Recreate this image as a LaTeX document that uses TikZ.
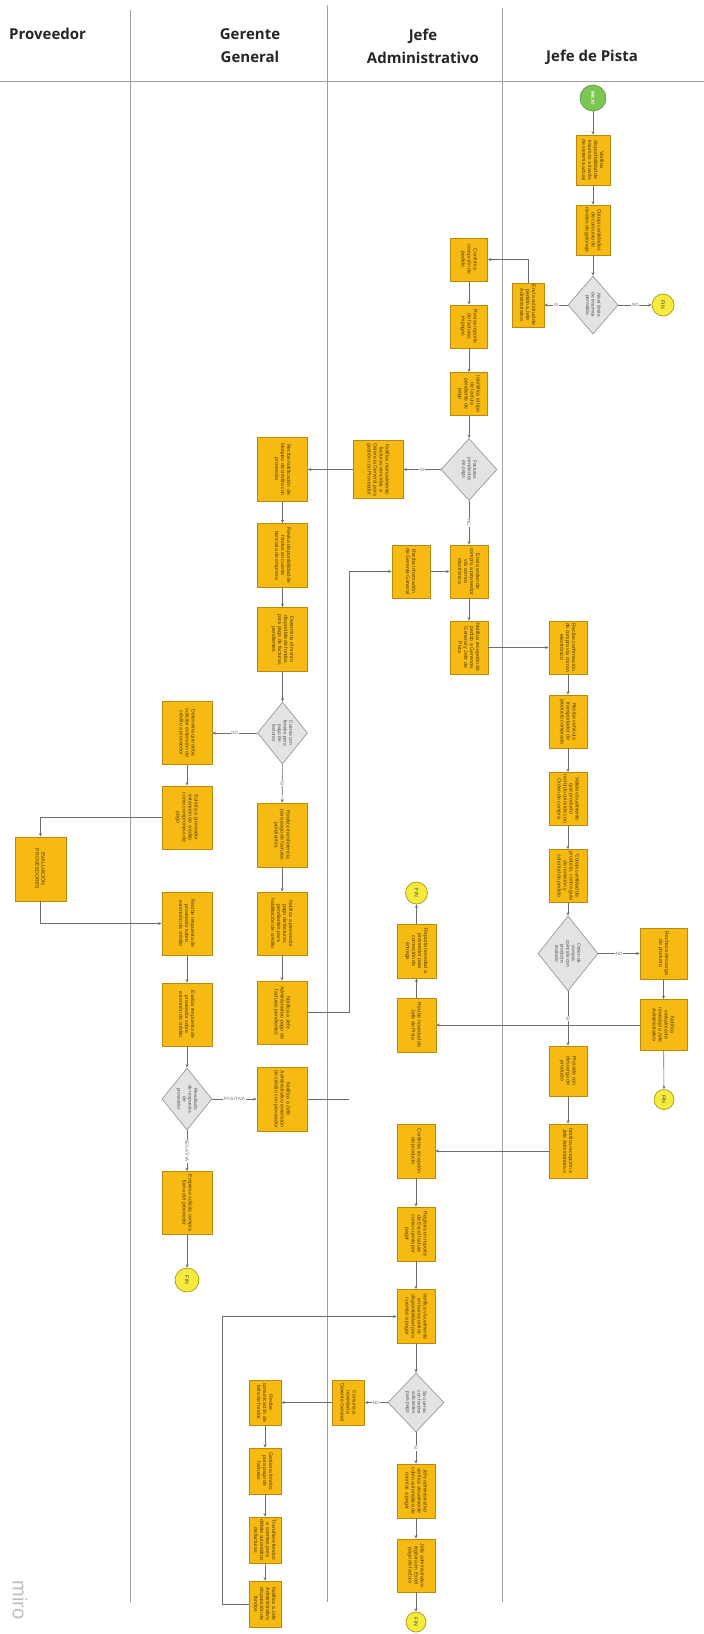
\documentclass[tikz,border=0pt]{standalone}
\usepackage{fontspec}
\setmainfont{Liberation Sans}
\newfontfamily\hdrfont{Open Sans}
\usepackage{graphicx}
\usetikzlibrary{shapes.geometric,arrows.meta}
\definecolor{boxfill}{HTML}{F6BA12}
\definecolor{boxline}{HTML}{B8890F}
\definecolor{boxtext}{HTML}{4E3A00}
\definecolor{decfill}{HTML}{E3E3E3}
\definecolor{decline}{HTML}{9A9A9A}
\definecolor{conn}{HTML}{6E6E6E}
\definecolor{lanecol}{HTML}{A0A0A0}
\definecolor{startfill}{HTML}{7CC653}
\definecolor{startline}{HTML}{5E9E3C}
\definecolor{endfill}{HTML}{F6EB3C}
\definecolor{endline}{HTML}{A89B10}
\newcommand{\vt}[2]{\rotatebox{-90}{\parbox{#1pt}{\centering #2}}}
\begin{document}
\begin{tikzpicture}[x=1pt,y=-1pt,
  pbox/.style={draw=boxline, fill=boxfill, line width=0.7pt, inner sep=0pt, text=boxtext, font=\fontsize{5.2}{6}\selectfont},
  bx/.style 2 args={pbox, minimum width=#1pt, minimum height=#2pt},
  dec/.style 2 args={diamond, draw=decline, fill=decfill, line width=0.7pt, inner sep=0pt, text=black!70, font=\fontsize{4.8}{5.6}\selectfont, minimum width=#1pt, minimum height=#2pt},
  startc/.style={circle, draw=startline, fill=startfill, line width=0.7pt, minimum size=26pt, inner sep=0pt, text=white, font=\bfseries\fontsize{4.4}{5}\selectfont},
  endc/.style={circle, draw=endline, fill=endfill, line width=0.7pt, minimum size=22pt, inner sep=0pt, text=black!75, font=\fontsize{5.2}{6}\selectfont},
  arr/.style={draw=conn, line width=0.6pt, -{Stealth[length=3.5pt,width=3pt]}},
  ln/.style={draw=conn, line width=0.6pt},
  lbl/.style={font=\fontsize{4.6}{5}\selectfont, text=black!55, fill=white, inner sep=0.6pt},
  laneline/.style={draw=lanecol, line width=0.9pt},
  hdr/.style={font=\hdrfont\bfseries\fontsize{15}{23}\selectfont, text=black!85, inner sep=0pt, align=center}
]
\useasboundingbox (0,0) rectangle (704,1634);
\fill[white] (0,0) rectangle (704,1634);

% lanes
\draw[laneline] (0,81) -- (704,81);
\draw[laneline] (130,10) -- (130,1602);
\draw[laneline] (327,5) -- (327,1602);
\draw[laneline] (502,8) -- (502,1602);

% headers
\node[hdr, anchor=west] (hP) at (9,34) {Proveedor};
\node[hdr] (hG) at (250,46) {Gerente\\General};
\node[hdr] (hA) at (423,46) {Jefe\\Administrativo};
\node[hdr] (hJ) at (592,57) {Jefe de Pista};

% watermark
\node[rotate=-90, text=black!25, font=\fontsize{20}{22}\selectfont] (miro) at (20,1600) {miro};

% ---------------- Jefe de Pista (top)
\node[startc] (inicio) at (593,98) {\rotatebox{-90}{INICIO}};
\node[bx={34}{50}] (p1) at (593,160) {\vt{46}{Verifica disponibilidad de insumos a través de sistema actual}};
\node[bx={34}{50}] (p2) at (593,230) {\vt{46}{Coteja cantidades de consumo de niveles de galonaje}};
\node[dec={50}{58}] (pd1) at (593,305) {\vt{26}{Nivel límite de insumos permitido}};
\node[endc] (fin1) at (663,305) {\rotatebox{-90}{FIN}};
\node[bx={32}{44}] (p3) at (528,305) {\vt{41}{Envía solicitud de pedido a Jefe Administrativo}};

% ---------------- Jefe Administrativo (top)
\node[bx={37}{43}] (a1) at (469,259.5) {\vt{40}{Confirma recepción de pedido}};
\node[bx={37}{43}] (a2) at (469,326.5) {\vt{40}{Revisa reporte de facturas impagas}};
\node[bx={37}{43}] (a3) at (469,394) {\vt{40}{Identifica el tipo de factura pendiente de pago}};
\node[dec={56}{62}] (ad1) at (469,469.5) {\vt{28}{Facturas pendientes de pago}};
\node[bx={50}{58}] (an) at (378,469.5) {\vt{54}{Notifica manualmente facturas vencidas a Gerencia General para gestión con Proveedor}};
\node[bx={38}{53}] (a4) at (469,571.5) {\vt{49}{Envía orden de compra a proveedor vía correo electrónico}};
\node[bx={38}{53}] (a5) at (411,571.5) {\vt{49}{Recibe información de Gerente General}};
\node[bx={38}{53}] (a6) at (469,647.5) {\vt{49}{Notifica recepción de pedido a Gerencia General y Jefe de Pista}};

% ---------------- Gerente General
\node[bx={50}{64}] (g1) at (282.5,469.5) {\vt{59}{Recibe notificación de bloqueo de crédito con proveedor}};
\node[bx={50}{64}] (g2) at (282.5,555.5) {\vt{59}{Revisa disponibilidad de fondos en cuenta bancaria de empresa}};
\node[bx={50}{64}] (g3) at (282.5,639.5) {\vt{59}{Determina el monto disponible de fondos para pago de facturas pendientes}};
\node[dec={50}{62}] (gd1) at (282.5,733) {\vt{28}{Cuenta con fondos para pago de facturas}};
\node[bx={50}{63}] (gl1) at (187,733) {\vt{58}{Determina que debe solicitar extensión de crédito a proveedor}};
\node[bx={50}{63}] (gl2) at (187,817.5) {\vt{58}{Solicita a proveedor extensión de crédito como compromiso de pago}};
\node[bx={51}{64}] (ev) at (40.5,869) {\vt{58}{EVALUACIÓN PROVEEDORES}};
\node[bx={50}{63}] (gl3) at (187,923.5) {\vt{58}{Recibe respuesta de proveedor sobre extensión de crédito}};
\node[bx={50}{63}] (gl4) at (187,1014.5) {\vt{58}{Evalúa respuesta de proveedor sobre extensión de crédito}};
\node[dec={50}{62}] (gld) at (187,1099) {\vt{28}{Resultado de respuesta de proveedor}};
\node[bx={50}{63}] (gl5) at (187,1203) {\vt{58}{Empresa solicita compra fuera del proveedor}};
\node[endc, minimum size=24pt] (fing) at (187,1280) {\rotatebox{-90}{FIN}};
\node[bx={50}{64}] (g4) at (282,835) {\vt{59}{Realiza transferencia para pago de facturas pendientes}};
\node[bx={50}{63}] (g5) at (282,923.5) {\vt{58}{Notifica a proveedor pago de facturas pendientes para habilitación de crédito}};
\node[bx={50}{63}] (g6) at (282,1012.5) {\vt{58}{Notifica a Jefe Administrativo pago de facturas pendientes}};
\node[bx={50}{64}] (g7) at (282,1099) {\vt{59}{Notifica a Jefe Administrativo extensión de crédito con proveedor}};
\coordinate (jx) at (349,571.5);

% ---------------- Jefe de Pista (middle)
\node[bx={38}{53}] (j1) at (568,647.5) {\vt{49}{Recibe confirmación de compra vía correo electrónico}};
\node[bx={38}{53}] (j2) at (568,721.5) {\vt{49}{Recibe vehículo transportador de producto comprado}};
\node[bx={38}{53}] (j3) at (568,799) {\vt{49}{Valida visualmente que producto recibido coincide con Orden de compra}};
\node[bx={38}{53}] (j4) at (568,876) {\vt{49}{Coteja cantidad de producto, contra guía de remisión y solicitud de pedido}};
\node[dec={60}{75}] (jd) at (568,953.5) {\vt{32}{Orden de compra coincide con producto recibido}};
\node[bx={47}{51}] (jr1) at (663.5,953.5) {\vt{46}{Rechaza descarga de producto}};
\node[bx={47}{51}] (jr2) at (663.5,1025) {\vt{46}{Notifica verbalmente novedad a Jefe Administrativo}};
\node[endc, minimum size=20pt] (fin3) at (664,1099.5) {\rotatebox{-90}{FIN}};
\node[bx={38}{50}] (j5) at (568,1071) {\vt{46}{Procede con descarga de producto}};
\node[bx={38}{54}] (j6) at (568,1151) {\vt{49}{Notifica recepción a Jefe Administrativo}};

% ---------------- Jefe Administrativo (lower)
\node[bx={39}{54}] (ar1) at (416.5,1025) {\vt{49}{Recibe novedad de Jefe de Pista}};
\node[bx={39}{54}] (ar2) at (416.5,951) {\vt{49}{Reporta novedad a proveedor para corrección de entrega}};
\node[endc] (fin2) at (416.5,893) {\rotatebox{-90}{FIN}};
\node[bx={38}{54}] (a7) at (416,1151) {\vt{49}{Confirma recepción de producto}};
\node[bx={38}{54}] (a8) at (416,1234) {\vt{49}{Registra en reporte de Excel factura como cuenta por pagar}};
\node[bx={38}{54}] (a9) at (416,1316.5) {\vt{49}{Verifica visualmente en banca online disponibilidad para cuentas a pagar}};
\node[dec={56}{59}] (ad2) at (416,1402.5) {\vt{30}{Se cuenta con fondos suficientes para pago}};
\node[bx={32}{45}] (a10) at (348.5,1402.5) {\vt{41}{Comunica novedad a Gerente General}};
\node[bx={38}{54}] (a11) at (416,1491) {\vt{49}{Jefe administrativo verifica visualmente cobro automático de cuentas a pagar}};
\node[bx={38}{53}] (a12) at (416,1565.5) {\vt{49}{Jefe administrativo registra en Excel pago de factura}};
\node[endc, minimum size=20pt] (fin4) at (416,1622) {\rotatebox{-90}{FIN}};

% ---------------- Gerente General (lower)
\node[bx={32}{45}] (g8) at (265,1402.5) {\vt{41}{Recibe comunicación de falta de fondos}};
\node[bx={32}{46}] (g9) at (265,1471) {\vt{42}{Gestiona fondos para pago de facturas}};
\node[bx={32}{46}] (g10) at (265,1540) {\vt{42}{Transfiere fondos a cuentas para débito automático de facturas}};
\node[bx={32}{46}] (g11) at (265,1604) {\vt{42}{Notifica a Jefe Administrativo disposición de fondos}};
\coordinate (lp) at (222,1316.5);

% ---------------- connectors
\draw[arr] (inicio) -- (p1);
\draw[arr] (p1) -- (p2);
\draw[arr] (p2) -- (pd1);
\draw[arr] (pd1) -- node[lbl] (lnA) {NO} (fin1);
\draw[arr] (pd1) -- node[lbl] (lsA) {SI} (p3);
\draw[arr] (p3.north) |- (a1.east);

\draw[arr] (a1) -- (a2);
\draw[arr] (a2) -- (a3);
\draw[arr] (a3) -- (ad1);
\draw[arr] (ad1) -- node[lbl] (lsB) {SI} (an);
\draw[arr] (an) -- (g1);
\draw[arr] (ad1) -- node[lbl, rotate=-90] (lnB) {NO} (a4);
\draw[arr] (a5) -- (a4);
\draw[arr] (a4) -- (a6);
\draw[arr] (a6) -- (j1);

\draw[arr] (g1) -- (g2);
\draw[arr] (g2) -- (g3);
\draw[arr] (g3) -- (gd1);
\draw[arr] (gd1) -- node[lbl] (lnC) {NO} (gl1);
\draw[arr] (gd1) -- node[lbl, rotate=-90] (lsC) {SI} (g4);
\draw[arr] (gl1) -- (gl2);
\draw[arr] (gl2.west) -| (ev.north);
\draw[arr] (ev.south) |- (gl3.west);
\draw[arr] (gl3) -- (gl4);
\draw[arr] (gl4) -- (gld);
\draw[arr] (gld) -- node[lbl] (lpD) {POSITIVA} (g7);
\draw[arr] (gld) -- node[lbl, rotate=-90] (lnD) {NEGATIVA} (gl5);
\draw[arr] (gl5) -- (fing);
\draw[arr] (g4) -- (g5);
\draw[arr] (g5) -- (g6);
\draw[arr] (g6.east) -| (jx) -- (a5.west);
\draw[ln] (g7.east) -- (g7.east -| jx);

\draw[arr] (j1) -- (j2);
\draw[arr] (j2) -- (j3);
\draw[arr] (j3) -- (j4);
\draw[arr] (j4) -- (jd);
\draw[arr] (jd) -- node[lbl] (lnE) {NO} (jr1);
\draw[arr] (jr1) -- (jr2);
\draw[arr] (jr2) -- (fin3);
\draw[arr] (jr2) -- (ar1);
\draw[arr] (ar1) -- (ar2);
\draw[arr] (ar2) -- (fin2);
\draw[arr] (jd) -- node[lbl, rotate=-90] (lsE) {SI} (j5);
\draw[arr] (j5) -- (j6);
\draw[arr] (j6) -- (a7);

\draw[arr] (a7) -- (a8);
\draw[arr] (a8) -- (a9);
\draw[arr] (a9) -- (ad2);
\draw[arr] (ad2) -- node[lbl] (lnF) {NO} (a10);
\draw[arr] (a10) -- (g8);
\draw[arr] (g8) -- (g9);
\draw[arr] (g9) -- (g10);
\draw[arr] (g10) -- (g11);
\draw[arr] (g11.west) -| (lp) -- (a9.west);
\draw[arr] (ad2) -- node[lbl, rotate=-90] (lsF) {SI} (a11);
\draw[arr] (a11) -- (a12);
\draw[arr] (a12) -- (fin4);
\end{tikzpicture}
\end{document}
